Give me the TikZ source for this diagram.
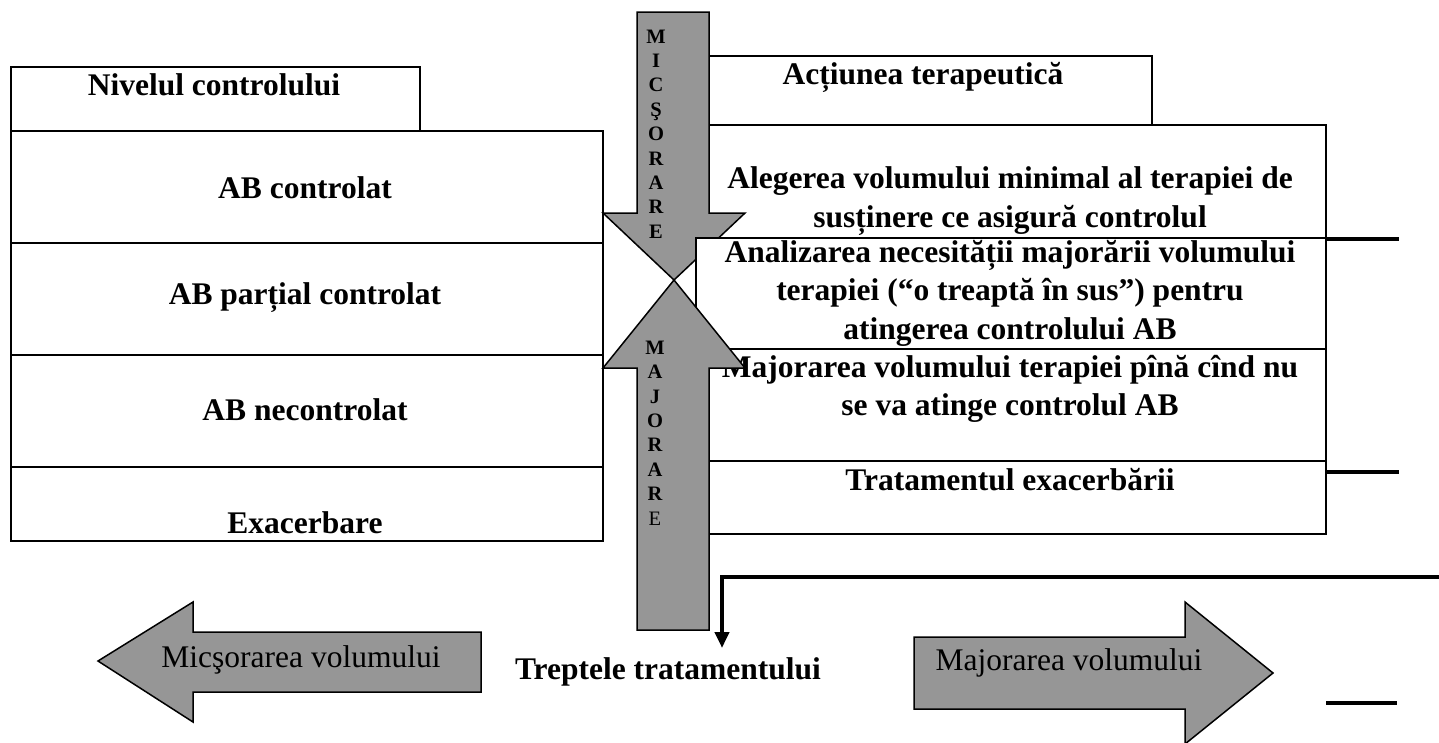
\documentclass[tikz,border=0pt]{standalone}
\usepackage{fontspec}
\setmainfont{Liberation Serif}
\usetikzlibrary{arrows.meta}
\definecolor{arrowgray}{RGB}{150,150,150}

\begin{document}
\begin{tikzpicture}[x=1pt,y=-1pt,
  box/.style={draw, line width=2pt, fill=white, anchor=north west, inner sep=0pt},
  txt/.style={font=\fontsize{31.5}{38.5}\selectfont\bfseries, align=center, inner sep=0pt},
  plain/.style={font=\fontsize{31.5}{38.5}\selectfont, inner sep=0pt},
  letters/.style={font=\fontsize{20.5}{24.4}\selectfont\bfseries, align=center, inner sep=0pt},
  block/.style={draw, line width=1.5pt, fill=arrowgray, line join=miter},
  bar/.style={line width=4.5pt}]

\useasboundingbox (0,0) rectangle (1439,742);

\node[box, minimum width=409pt, minimum height=64pt] (lhead) at (10,66) {};
\node[box, minimum width=592pt, minimum height=112pt] (ab1) at (10,130) {};
\node[box, minimum width=592pt, minimum height=112pt] (ab2) at (10,242) {};
\node[box, minimum width=592pt, minimum height=112pt] (ab3) at (10,354) {};
\node[box, minimum width=592pt, minimum height=74pt] (ab4) at (10,466) {};

\node[txt] (lheadt) at (214,85) {Nivelul controlului};
\node[txt] (ab1t) at (305,188) {AB controlat};
\node[txt] (ab2t) at (305,298) {AB parțial controlat};
\node[txt] (ab3t) at (305,410) {AB necontrolat};
\node[txt] (ab4t) at (305,523) {Exacerbare};

\node[box, minimum width=456pt, minimum height=69pt] (rhead) at (695,55) {};
\node[box, minimum width=630pt, minimum height=113pt] (r1) at (695,124) {};
\node[txt] (rheadt) at (923,77) {Acțiunea terapeutică};
\node[txt] (r1t) at (1010,201) {Alegerea volumului minimal al terapiei de\\susținere ce asigură controlul};

\draw[block] (637,12) -- (709,12) -- (709,213) -- (745,213) -- (674,280)
  -- (603,213) -- (637,213) -- cycle;
\node[letters] (downt) at (656,134) {M\\I\\C\\Ş\\O\\R\\A\\R\\E};

\node[box, minimum width=630pt, minimum height=111pt] (r2) at (695,237) {};
\node[box, minimum width=630pt, minimum height=112pt] (r3) at (695,348) {};
\node[box, minimum width=630pt, minimum height=73pt] (r4) at (695,460) {};
\node[txt] (r2t) at (1010,293) {Analizarea necesității majorării volumului\\terapiei (“o treaptă în sus”) pentru\\atingerea controlului AB};
\node[txt] (r3t) at (1010,389) {Majorarea volumului terapiei pînă cînd nu\\se va atinge controlul AB};
\node[txt] (r4t) at (1010,480) {Tratamentul exacerbării};

\draw[block] (674,280) -- (745,368) -- (709,368) -- (709,630) -- (637,630)
  -- (637,368) -- (603,368) -- cycle;
\node[letters] (upt) at (655,433) {M\\A\\J\\O\\R\\A\\R\\{\mdseries E}};

\draw[bar] (r1.south east) -- ++(72,0);
\draw[bar] ([yshift=-10pt]r3.south east) -- ++(72,0);
\coordinate (mark) at (1326,703);
\draw[bar] (mark) -- ++(71,0);

\draw[block] (98,661) -- (193,602) -- (193,632) -- (481,632) -- (481,692)
  -- (193,692) -- (193,722) -- cycle;
\node[plain] (lesst) at (301,660) {Micşorarea volumului};

\draw[block] (914,637) -- (1185,637) -- (1185,602) -- (1273,673) -- (1185,744)
  -- (1185,709) -- (914,709) -- cycle;
\node[plain] (moret) at (1069,663) {Majorarea volumului};

\node[txt] (steps) at (668,672) {Treptele tratamentului};
\coordinate (lstart) at (1439,577);
\coordinate (ltip) at (722,648);
\draw[line width=4pt, -{Triangle[width=14pt,length=16pt]}] (lstart) -| (ltip);
\end{tikzpicture}
\end{document}
